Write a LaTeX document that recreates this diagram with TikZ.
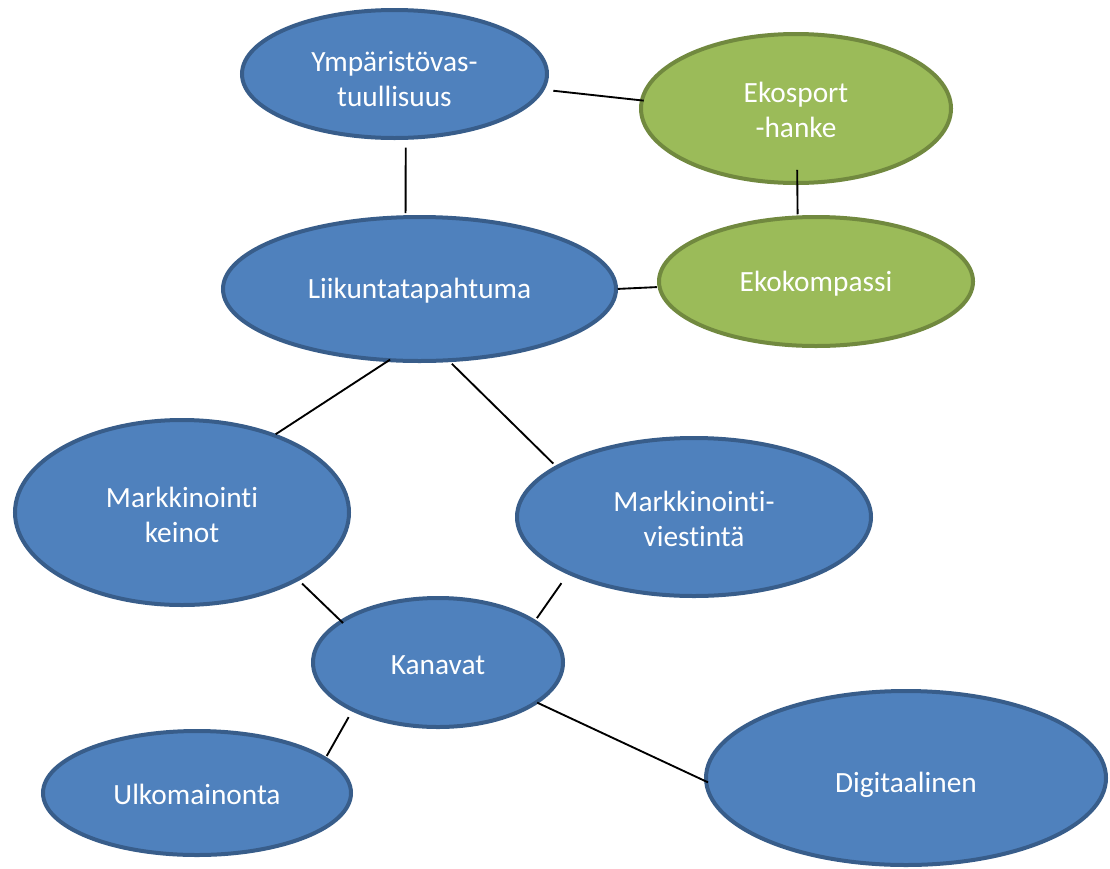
\documentclass[tikz,border=0pt]{standalone}
\usepackage{fontspec}
\setmainfont{Carlito}[Ligatures=NoCommon]
\usepackage{tikz}
\usetikzlibrary{shapes.geometric}
\definecolor{ovalblue}{RGB}{79,129,189}
\definecolor{ovalblueline}{RGB}{56,93,138}
\definecolor{ovalgreen}{RGB}{155,187,89}
\definecolor{ovalgreenline}{RGB}{113,137,63}
\newcommand\dropline[2]{\raisebox{-#1}[\height][\depth]{#2}}
\tikzset{
  oval/.style 2 args={ellipse, inner sep=0pt, outer sep=0pt, minimum width={#1*0.75pt}, minimum height={#2*0.75pt}, line width=3pt, text=white, align=center, font=\fontsize{22}{26.25}\selectfont},
  blueoval/.style 2 args={oval={#1}{#2}, draw=ovalblueline, fill=ovalblue},
  greenoval/.style 2 args={oval={#1}{#2}, draw=ovalgreenline, fill=ovalgreen},
  link/.style={draw=black, line width=1.4pt}
}

\begin{document}
\begin{tikzpicture}[x=0.75pt,y=0.75pt,yscale=-1,xscale=1]
\useasboundingbox (0,0) rectangle (1110,868);

%Shape: Ellipse
\node (ymp) at (394.5,74) [blueoval={305}{128}] {\dropline{3.75pt}{Ympäristövas-}\\\dropline{3.75pt}{tuullisuus}};
%Shape: Ellipse
\node (ekosport) at (796,108.5) [greenoval={310}{149}] {\dropline{1pt}{Ekosport}\\\dropline{1pt}{-hanke}};
%Shape: Ellipse
\node (ekokompassi) at (816,281.5) [greenoval={314}{129}] {\dropline{1.5pt}{Ekokompassi}};
%Shape: Ellipse
\node (liikunta) at (419.5,289) [blueoval={393}{144}] {\dropline{1.5pt}{Liikuntatapahtuma}};
%Shape: Ellipse
\node (keinot) at (182,512.5) [blueoval={334}{185}] {\dropline{1.8pt}{Markkinointi}\\\dropline{1.8pt}{keinot}};
%Shape: Ellipse
\node (viestinta) at (694,517) [blueoval={354}{158}] {\dropline{1.8pt}{Markkinointi-}\\\dropline{1.8pt}{viestintä}};
%Shape: Ellipse
\node (kanavat) at (438,662.5) [blueoval={250}{129}] {\dropline{2pt}{Kanavat}};
%Shape: Ellipse
\node (ulko) at (197,793) [blueoval={308}{124}] {\dropline{1pt}{Ulkomainonta}};
%Shape: Ellipse
\node (digi) at (906,778) [blueoval={400}{174}] {\dropline{5pt}{Digitaalinen}};

%Straight Lines
\draw [link, shorten <=8.2pt, shorten >=-1.35pt] (ymp.-6.9) -- (ekosport.177.9);
\draw [link, shorten <=7.4pt, shorten >=3pt] (ymp.-80.7) -- (liikunta.101.4);
\draw [link, shorten <=-9.9pt, shorten >=2.4pt] (ekosport.-89.2) -- (ekokompassi.106.5);
\draw [link, shorten <=1.3pt, shorten >=2.1pt] (liikunta.0) -- (ekokompassi.182.7);
\draw [link, shorten <=-0.7pt, shorten >=1.5pt] (liikunta.247.7) -- (keinot.40);
\draw [link, shorten <=3.8pt, shorten >=3.8pt] (liikunta.-68) -- (viestinta.160.4);
\draw [link, shorten <=4.7pt, shorten >=-1.6pt] (keinot.-30.1) -- (kanavat.157.9);
\draw [link, shorten <=9.5pt, shorten >=3.1pt] (viestinta.204.8) -- (kanavat.23.1);
\draw [link, shorten <=6.4pt, shorten >=2.3pt] (kanavat.209.5) -- (ulko.15.6);
\draw [link, shorten <=0.6pt, shorten >=-1.5pt] (kanavat.-22.2) -- (digi.181.5);

\end{tikzpicture}
\end{document}
